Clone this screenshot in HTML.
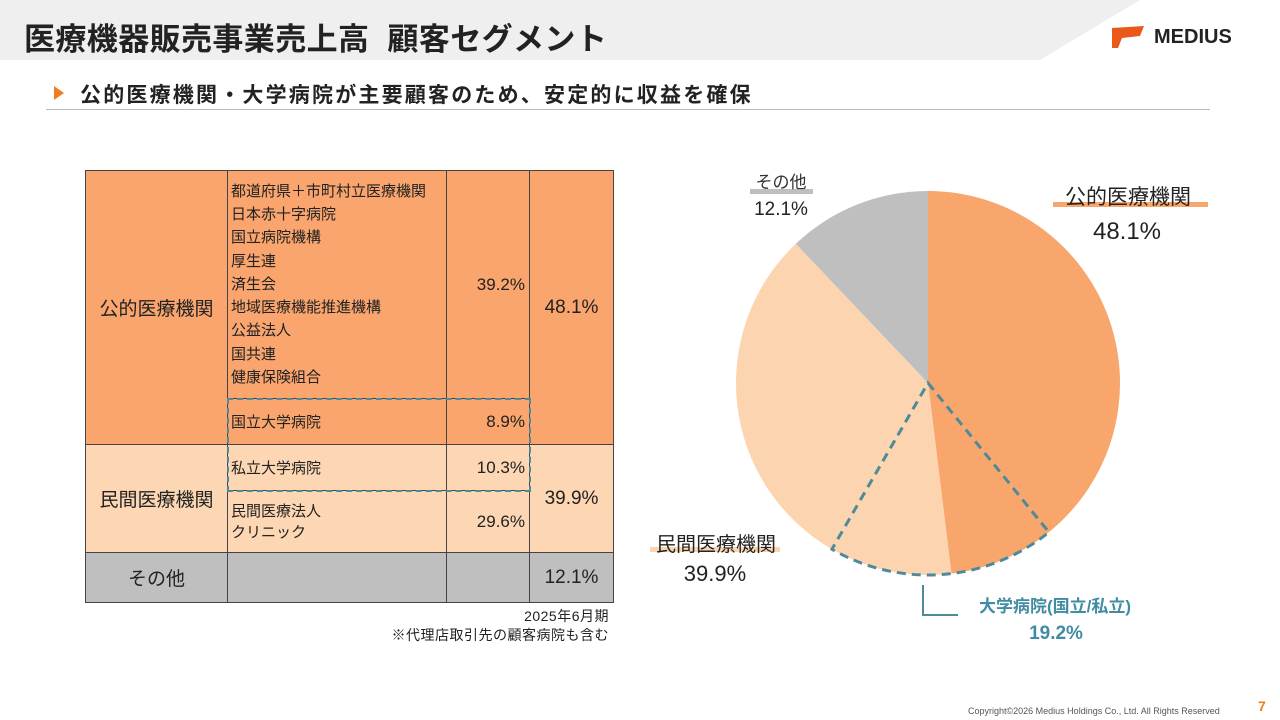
<!DOCTYPE html>
<html><head><meta charset="utf-8">
<style>
body{margin:0;width:1280px;height:720px;overflow:hidden;background:#fff;font-family:"Liberation Sans","Noto Sans CJK JP",sans-serif;position:relative;color:#222}
.abs{position:absolute}
td{border:1.5px solid #444;padding:0;vertical-align:middle}
</style></head><body>
<svg class="abs" style="left:0;top:0" width="1280" height="60"><polygon points="0,0 1140,0 1040,60 0,60" fill="#efefef"/></svg>
<div class="abs" style="left:24px;top:14px;font-size:31px;font-weight:bold;color:#222;letter-spacing:0.4px">医療機器販売事業売上高&nbsp;&nbsp;顧客セグメント</div>
<div class="abs" style="left:1110px;top:24px;display:flex;align-items:center">
<svg width="36" height="26"><polygon points="2,4 34,2 30,12 12,14 8,24 2,24" fill="#e8591a"/></svg>
<span style="font-weight:bold;font-size:20px;color:#222;margin-left:8px">MEDIUS</span></div>
<svg class="abs" style="left:54px;top:86px" width="12" height="14"><polygon points="0,0 10,7 0,14" fill="#ef7d1e"/></svg>
<div class="abs" style="left:80px;top:79px;font-size:21px;font-weight:bold;color:#222;letter-spacing:2.2px">公的医療機関・大学病院が主要顧客のため、安定的に収益を確保</div>
<div class="abs" style="left:46px;top:109px;width:1164px;height:1px;background:#bbb"></div>

<table class="abs" style="left:85px;top:170px;border-collapse:collapse;table-layout:fixed;width:528px;font-size:15px;color:#222">
<colgroup><col style="width:142px"><col style="width:219px"><col style="width:83px"><col style="width:84px"></colgroup>
<tr style="height:228px;background:#f9a56d"><td rowspan="2" style="font-size:19px;text-align:center">公的医療機関</td>
<td style="padding-left:3px;line-height:23.2px">都道府県＋市町村立医療機関<br>日本赤十字病院<br>国立病院機構<br>厚生連<br>済生会<br>地域医療機能推進機構<br>公益法人<br>国共連<br>健康保険組合</td>
<td style="text-align:right;padding-right:4px;font-size:17px">39.2%</td>
<td rowspan="2" style="text-align:center;font-size:19px">48.1%</td></tr>
<tr style="height:46px;background:#f9a56d"><td style="padding-left:3px">国立大学病院</td><td style="text-align:right;padding-right:4px;font-size:17px">8.9%</td></tr>
<tr style="height:46px;background:#fdd6b3"><td rowspan="2" style="text-align:center;font-size:19px">民間医療機関</td><td style="padding-left:3px">私立大学病院</td><td style="text-align:right;padding-right:4px;font-size:17px">10.3%</td>
<td rowspan="2" style="text-align:center;font-size:19px">39.9%</td></tr>
<tr style="height:62px;background:#fdd6b3"><td style="padding-left:3px;line-height:21px">民間医療法人<br>クリニック</td><td style="text-align:right;padding-right:4px;font-size:17px">29.6%</td></tr>
<tr style="height:50px;background:#bfbfbf"><td style="text-align:center;font-size:19px">その他</td><td></td><td></td><td style="text-align:center;font-size:19px">12.1%</td></tr>
</table>
<div class="abs" style="left:227px;top:398px;width:300px;height:90px;border:2px dashed #4f8a9b"></div>
<div class="abs" style="left:370px;top:607px;width:239px;text-align:right;font-size:14px;line-height:19px;color:#222;letter-spacing:0.5px">2025年6月期<br>※代理店取引先の顧客病院も含む</div>

<svg class="abs" style="left:0;top:0" width="1280" height="720" id="pie"></svg>
<div class="abs" style="left:968px;top:706px;font-size:9px;color:#555">Copyright©2026 Medius Holdings Co., Ltd. All Rights Reserved</div>
<div class="abs" style="left:1258px;top:698px;font-size:14px;font-weight:bold;color:#ef7d1e">7</div>
<script>
const sliceNames=['public-other','national-univ','private-univ','private-other','other'];
const sliceValues=[39.2,8.9,10.3,29.6,12.1];
const sliceColors=['#f8a66c','#f8a66c','#fcd5b0','#fcd5b0','#bfbfbf'];
const ns='http://www.w3.org/2000/svg';
const svg=document.getElementById('pie');
const cx=928,cy=383,r=192;
const total=sliceValues.reduce((a,b)=>a+b,0);
function pt(f){const a=f*2*Math.PI;return [cx+r*Math.sin(a),cy-r*Math.cos(a)];}
let acc=0;const bounds=[];
sliceValues.forEach((v,i)=>{
 const f0=acc/total,f1=(acc+v)/total;bounds.push([f0,f1]);acc+=v;
 const p0=pt(f0),p1=pt(f1);const large=(f1-f0)>0.5?1:0;
 const p=document.createElementNS(ns,'path');
 p.setAttribute('d',`M${cx},${cy}L${p0[0]},${p0[1]}A${r},${r} 0 ${large} 1 ${p1[0]},${p1[1]}Z`);
 p.setAttribute('fill',sliceColors[i]);
 
 
 svg.appendChild(p);
});
const d0=bounds[1][0],d1=bounds[2][1];const q0=pt(d0),q1=pt(d1);
const dp=document.createElementNS(ns,'path');
dp.setAttribute('d',`M${cx},${cy}L${q0[0]},${q0[1]}A${r},${r} 0 0 1 ${q1[0]},${q1[1]}Z`);
dp.setAttribute('fill','none');dp.setAttribute('stroke','#4f8a9b');dp.setAttribute('stroke-width','3');dp.setAttribute('stroke-dasharray','9,6');


svg.appendChild(dp);
function txt(x,y,s,size,color,name,anchor){const t=document.createElementNS(ns,'text');t.setAttribute('x',x);t.setAttribute('y',y);t.setAttribute('font-size',size);t.setAttribute('fill',color);t.setAttribute('text-anchor',anchor||'middle');t.setAttribute('font-family','"Liberation Sans","Noto Sans CJK JP",sans-serif');t.textContent=s;


svg.appendChild(t);}
function bar(x,y,w,c,name){const b=document.createElementNS(ns,'rect');b.setAttribute('x',x);b.setAttribute('y',y);b.setAttribute('width',w);b.setAttribute('height',5);b.setAttribute('fill',c);


svg.appendChild(b);}
bar(750,189,63,'#bfbfbf','other-underline');
txt(781,188,'その他',17,'#333','other-title');
txt(781,215,(sliceValues[4]).toFixed(1)+'%',19,'#222','other-value');
bar(1053,202,155,'#f8a66c','public-underline');
txt(1128,204,'公的医療機関',21,'#222','public-title');
txt(1127,239,(sliceValues[0]+sliceValues[1]).toFixed(1)+'%',24,'#222','public-value');
bar(650,547,130,'#fcd5b0','private-underline');
txt(716,551,'民間医療機関',20,'#222','private-title');
txt(715,581,(sliceValues[2]+sliceValues[3]).toFixed(1)+'%',22,'#222','private-value');
const ln=document.createElementNS(ns,'polyline');ln.setAttribute('points','923,585 923,615 958,615');ln.setAttribute('fill','none');ln.setAttribute('stroke','#4f8a9b');ln.setAttribute('stroke-width','2');


svg.appendChild(ln);
txt(1055,612,'大学病院(国立/私立)',17,'#3f8ca3','univ-title');
svg.lastChild.setAttribute('font-weight','bold');
txt(1056,639,(sliceValues[1]+sliceValues[2]).toFixed(1)+'%',19,'#3f8ca3','univ-value');
svg.lastChild.setAttribute('font-weight','bold');
</script>
</body></html>
